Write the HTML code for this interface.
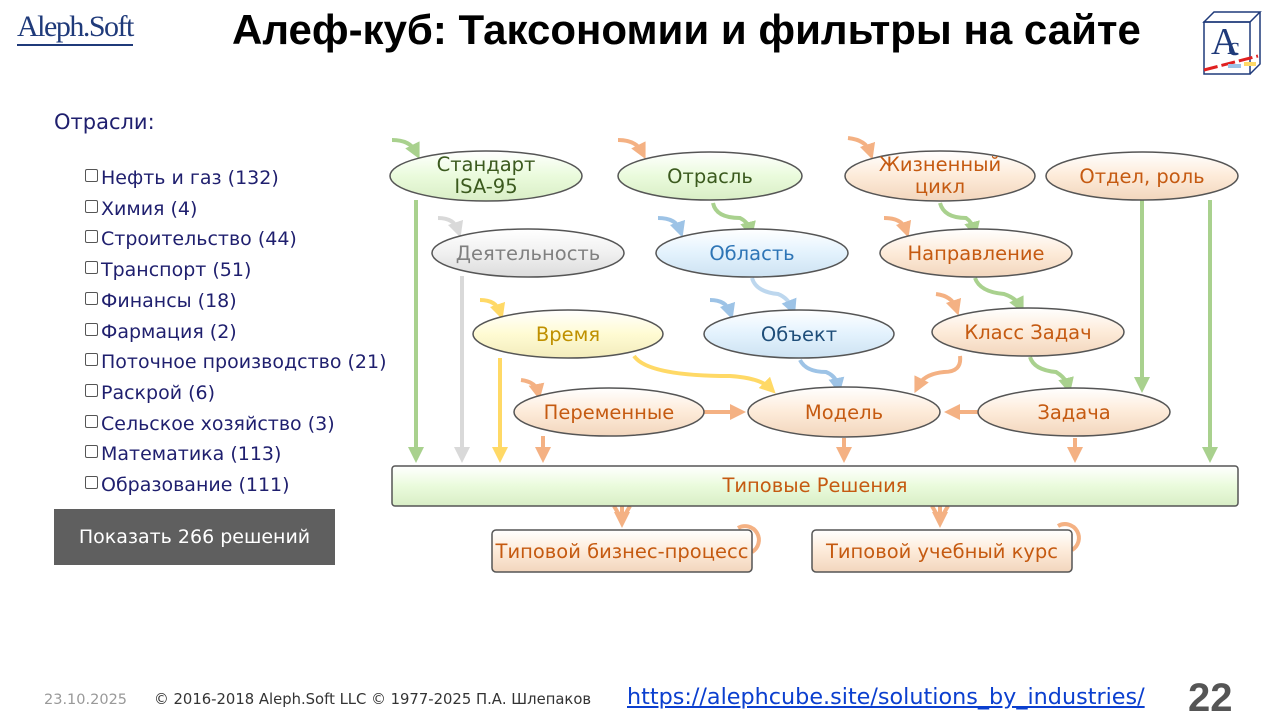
<!DOCTYPE html>
<html><head><meta charset="utf-8">
<style>
body{margin:0;width:1280px;height:720px;background:#fff;position:relative;overflow:hidden;font-family:"Liberation Sans","DejaVu Sans",sans-serif}
.t{position:absolute}
.list{position:absolute;left:85px;top:163px;font-family:"DejaVu Sans",sans-serif;font-size:19px;color:#1f1f6e;line-height:30.7px}
.cb{display:inline-block;width:11px;height:11px;border:1px solid #555;border-radius:2px;margin-right:3px;vertical-align:2px;background:#fff}
</style></head><body>
<div class="t" style="left:17px;top:10px;font-family:'Liberation Serif',serif;font-size:30px;color:#1f3a7a;letter-spacing:-1.5px;border-bottom:2px solid #1f3a7a;line-height:34px">Aleph.Soft</div>
<div class="t" style="left:232px;top:6px;font-size:42px;font-weight:bold;color:#000;white-space:nowrap">Алеф-куб: Таксономии и фильтры на сайте</div>
<svg class="t" style="left:1198px;top:10px" width="66" height="68">
<polygon points="6,12 16,2 62,2 52,12" fill="none" stroke="#1f3a7a" stroke-width="1.5"/>
<rect x="6" y="12" width="46" height="52" fill="none" stroke="#1f3a7a" stroke-width="1.5"/>
<polyline points="52,64 62,54 62,2" fill="none" stroke="#1f3a7a" stroke-width="1.5"/>
<text x="13" y="44" font-family="Liberation Serif" font-size="38" fill="#1f3a7a">A</text>
<text x="30" y="45" font-family="Liberation Serif" font-size="26" fill="#1f3a7a">c</text>
<line x1="6" y1="60" x2="60" y2="46" stroke="#e02020" stroke-width="3" stroke-dasharray="14,4"/>
<rect x="30" y="54" width="13" height="4" fill="#9cc3e6"/><rect x="46" y="52" width="12" height="4" fill="#ffd966"/>
</svg>
<div class="t" style="left:54px;top:110px;font-family:'DejaVu Sans',sans-serif;font-size:21px;color:#1f1f6e">Отрасли:</div>
<div class="list">
<div><span class="cb"></span>Нефть и газ (132)</div>
<div><span class="cb"></span>Химия (4)</div>
<div><span class="cb"></span>Строительство (44)</div>
<div><span class="cb"></span>Транспорт (51)</div>
<div><span class="cb"></span>Финансы (18)</div>
<div><span class="cb"></span>Фармация (2)</div>
<div><span class="cb"></span>Поточное производство (21)</div>
<div><span class="cb"></span>Раскрой (6)</div>
<div><span class="cb"></span>Сельское хозяйство (3)</div>
<div><span class="cb"></span>Математика (113)</div>
<div><span class="cb"></span>Образование (111)</div>
</div>
<div class="t" style="left:54px;top:509px;width:281px;height:56px;background:#5f5f5f;color:#fff;font-family:'DejaVu Sans',sans-serif;font-size:19px;line-height:56px;text-align:center">Показать 266 решений</div>

<svg class="t" style="left:0;top:0" width="1280" height="720" font-family="DejaVu Sans, sans-serif">
<defs>
<linearGradient id="gG" x1="0" y1="0" x2="0" y2="1"><stop offset="0" stop-color="#fff"/><stop offset=".5" stop-color="#eafbdc"/><stop offset="1" stop-color="#d9eec6"/></linearGradient>
<linearGradient id="gP" x1="0" y1="0" x2="0" y2="1"><stop offset="0" stop-color="#fff"/><stop offset=".5" stop-color="#fdebd9"/><stop offset="1" stop-color="#f2d6bd"/></linearGradient>
<linearGradient id="gS" x1="0" y1="0" x2="0" y2="1"><stop offset="0" stop-color="#fff"/><stop offset=".5" stop-color="#f0f0f0"/><stop offset="1" stop-color="#dcdcdc"/></linearGradient>
<linearGradient id="gB" x1="0" y1="0" x2="0" y2="1"><stop offset="0" stop-color="#fff"/><stop offset=".5" stop-color="#e3f2fd"/><stop offset="1" stop-color="#cde2f2"/></linearGradient>
<linearGradient id="gY" x1="0" y1="0" x2="0" y2="1"><stop offset="0" stop-color="#fff"/><stop offset=".5" stop-color="#fffbd3"/><stop offset="1" stop-color="#f3ecbc"/></linearGradient>
<marker id="ag" markerWidth="4" markerHeight="4" refX="2" refY="2" orient="auto" markerUnits="strokeWidth"><path d="M0,0 L4,2 L0,4z" fill="#a9d18e"/></marker>
<marker id="ap" markerWidth="4" markerHeight="4" refX="2" refY="2" orient="auto" markerUnits="strokeWidth"><path d="M0,0 L4,2 L0,4z" fill="#f4b183"/></marker>
<marker id="as" markerWidth="4" markerHeight="4" refX="2" refY="2" orient="auto" markerUnits="strokeWidth"><path d="M0,0 L4,2 L0,4z" fill="#d9d9d9"/></marker>
<marker id="ab" markerWidth="4" markerHeight="4" refX="2" refY="2" orient="auto" markerUnits="strokeWidth"><path d="M0,0 L4,2 L0,4z" fill="#9dc3e6"/></marker>
<marker id="ay" markerWidth="4" markerHeight="4" refX="2" refY="2" orient="auto" markerUnits="strokeWidth"><path d="M0,0 L4,2 L0,4z" fill="#ffd966"/></marker>
</defs>
<g fill="none" stroke-width="4">
<path d="M392,140 Q410,140 416,152" stroke="#a9d18e" marker-end="url(#ag)"/>
<path d="M618,140 Q636,140 642,152" stroke="#f4b183" marker-end="url(#ap)"/>
<path d="M848,138 Q866,140 870,152" stroke="#f4b183" marker-end="url(#ap)"/>
<path d="M438,218 Q454,218 458,230" stroke="#d9d9d9" marker-end="url(#as)"/>
<path d="M658,218 Q676,218 680,230" stroke="#9dc3e6" marker-end="url(#ab)"/>
<path d="M884,218 Q902,218 906,230" stroke="#f4b183" marker-end="url(#ap)"/>
<path d="M480,300 Q496,300 500,312" stroke="#ffd966" marker-end="url(#ay)"/>
<path d="M710,300 Q726,300 730,312" stroke="#9dc3e6" marker-end="url(#ab)"/>
<path d="M936,294 Q952,296 956,308" stroke="#f4b183" marker-end="url(#ap)"/>
<path d="M521,380 Q536,382 538,392" stroke="#f4b183" marker-end="url(#ap)"/>
<path d="M713,203 Q716,218 740,218 Q748,222 750,230" stroke="#a9d18e" marker-end="url(#ag)"/>
<path d="M940,203 Q944,218 966,218 Q972,222 974,230" stroke="#a9d18e" marker-end="url(#ag)"/>
<path d="M752,278 Q756,292 778,294 Q788,298 792,308" stroke="#bdd7ee" marker-end="url(#ab)"/>
<path d="M975,278 Q980,292 1004,294 Q1016,298 1020,306" stroke="#a9d18e" marker-end="url(#ag)"/>
<path d="M1030,357 Q1034,370 1056,372 Q1066,378 1068,386" stroke="#a9d18e" marker-end="url(#ag)"/>
<path d="M800,360 Q806,372 826,372 Q836,376 838,386" stroke="#9dc3e6" marker-end="url(#ab)"/>
<path d="M960,356 Q962,372 944,372 Q924,374 918,386" stroke="#f4b183" marker-end="url(#ap)"/>
<path d="M634,356 Q648,376 730,376 Q760,378 770,388" stroke="#ffd966" marker-end="url(#ay)"/>
<path d="M416,200 V455" stroke="#a9d18e" marker-end="url(#ag)"/>
<path d="M462,276 V455" stroke="#d9d9d9" marker-end="url(#as)"/>
<path d="M500,358 V455" stroke="#ffd966" marker-end="url(#ay)"/>
<path d="M543,436 V455" stroke="#f4b183" marker-end="url(#ap)"/>
<path d="M844,438 V455" stroke="#f4b183" marker-end="url(#ap)"/>
<path d="M1075,438 V455" stroke="#f4b183" marker-end="url(#ap)"/>
<path d="M1142,200 V385" stroke="#a9d18e" marker-end="url(#ag)"/>
<path d="M1210,200 V455" stroke="#a9d18e" marker-end="url(#ag)"/>
<path d="M704,412 H738" stroke="#f4b183" marker-end="url(#ap)"/>
<path d="M978,412 H952" stroke="#f4b183" marker-end="url(#ap)"/>
<path d="M614,506 L622,520 M630,506 L622,520 M622,506 V520" stroke="#f4b183" marker-end="url(#ap)"/>
<path d="M932,506 L940,520 M948,506 L940,520 M940,506 V520" stroke="#f4b183" marker-end="url(#ap)"/>
<path d="M738,528 A13,13 0 1 1 752,552" stroke="#f4b183"/>
<path d="M1058,526 A13,13 0 1 1 1072,550" stroke="#f4b183"/>
</g>
<g stroke="#555" stroke-width="1.5">
<ellipse cx="486" cy="176" rx="96" ry="25" fill="url(#gG)"/>
<ellipse cx="710" cy="176" rx="92" ry="24" fill="url(#gG)"/>
<ellipse cx="940" cy="176" rx="95" ry="25" fill="url(#gP)"/>
<ellipse cx="1142" cy="176" rx="96" ry="24" fill="url(#gP)"/>
<ellipse cx="528" cy="253" rx="96" ry="24" fill="url(#gS)"/>
<ellipse cx="752" cy="253" rx="96" ry="24" fill="url(#gB)"/>
<ellipse cx="976" cy="253" rx="96" ry="24" fill="url(#gP)"/>
<ellipse cx="568" cy="334" rx="95" ry="24" fill="url(#gY)"/>
<ellipse cx="799" cy="334" rx="95" ry="24" fill="url(#gB)"/>
<ellipse cx="1028" cy="332" rx="96" ry="24" fill="url(#gP)"/>
<ellipse cx="609" cy="412" rx="95" ry="24" fill="url(#gP)"/>
<ellipse cx="844" cy="412" rx="96" ry="25" fill="url(#gP)"/>
<ellipse cx="1074" cy="412" rx="96" ry="24" fill="url(#gP)"/>
<rect x="392" y="466" width="846" height="40" rx="3" fill="url(#gG)"/>
<rect x="492" y="530" width="260" height="42" rx="4" fill="url(#gP)"/>
<rect x="812" y="530" width="260" height="42" rx="4" fill="url(#gP)"/>
</g>
<g font-size="19.5" text-anchor="middle">
<text x="486" y="171" fill="#3b5a1e">Стандарт</text><text x="486" y="193" fill="#3b5a1e">ISA-95</text>
<text x="710" y="183" fill="#3b5a1e">Отрасль</text>
<text x="940" y="171" fill="#c55a11">Жизненный</text><text x="940" y="193" fill="#c55a11">цикл</text>
<text x="1142" y="183" fill="#c55a11">Отдел, роль</text>
<text x="528" y="260" fill="#808080">Деятельность</text>
<text x="752" y="260" fill="#2e75b6">Область</text>
<text x="976" y="260" fill="#c55a11">Направление</text>
<text x="568" y="341" fill="#bf9000">Время</text>
<text x="799" y="341" fill="#1f4e79">Объект</text>
<text x="1028" y="339" fill="#c55a11">Класс Задач</text>
<text x="609" y="419" fill="#c55a11">Переменные</text>
<text x="844" y="419" fill="#c55a11">Модель</text>
<text x="1074" y="419" fill="#c55a11">Задача</text>
<text x="815" y="492" fill="#c55a11">Типовые Решения</text>
<text x="622" y="558" fill="#c55a11">Типовой бизнес-процесс</text>
<text x="942" y="558" fill="#c55a11">Типовой учебный курс</text>
</g>
</svg>
<div class="t" style="left:44px;top:692px;font-family:'DejaVu Sans',sans-serif;font-size:14.5px;color:#999">23.10.2025</div>
<div class="t" style="left:154px;top:691px;font-family:'DejaVu Sans',sans-serif;font-size:14.8px;color:#333;white-space:nowrap">© 2016-2018 Aleph.Soft LLC © 1977-2025 П.А. Шлепаков</div>
<div class="t" style="left:627px;top:684px;font-family:'DejaVu Sans',sans-serif;font-size:22.3px;color:#0b3fcf;text-decoration:underline;white-space:nowrap">https://alephcube.site/solutions_by_industries/</div>
<div class="t" style="left:1188px;top:676px;font-size:40px;font-weight:bold;color:#555">22</div>
</body></html>
